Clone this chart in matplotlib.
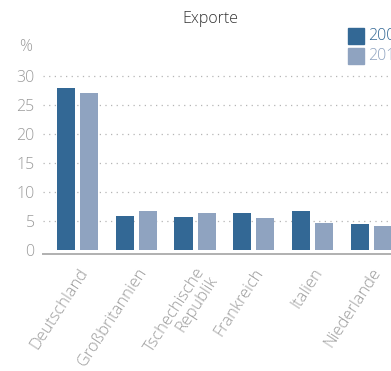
import numpy as np
import matplotlib
matplotlib.use("Agg")
import matplotlib.pyplot as plt

# Anteil an den Exporten je Partnerland (%)
laender = ["Deutschland", "Großbritannien", "Tschechische\nRepublik",
           "Frankreich", "Italien", "Niederlande"]
jahre = ["2008", "2013"]
werte_alt = [27.9, 5.9, 5.7, 6.4, 6.7, 4.5]
werte_neu = [27.1, 6.7, 6.4, 5.5, 4.7, 4.1]

farbe_alt = "#336895"
farbe_neu = "#8fa3c0"
grau = "#9b9b9b"

plt.rcParams["font.family"] = ["Open Sans", "DejaVu Sans"]
leicht = "light"

fig = plt.figure(figsize=(3.91, 3.71), dpi=100)
# Achse läuft rechts über den Bildrand hinaus
ax = fig.add_axes([43 / 391, 117 / 371, 387 / 391, 184 / 371])

x = np.arange(len(laender))
breite = 0.307
versatz = 0.196
ax.bar(x - versatz, werte_alt, breite, color=farbe_alt, zorder=3)
ax.bar(x + versatz, werte_neu, breite, color=farbe_neu, zorder=3)

ax.set_xlim(-0.588, 6.0)
ax.set_ylim(-0.69, 31)
ax.set_yticks([0, 5, 10, 15, 20, 25, 30])
ax.tick_params(axis="y", length=0, pad=6, labelsize=11.5, labelcolor=grau)
ax.tick_params(axis="x", length=0, pad=8)
for t in ax.get_yticklabels():
    t.set_fontweight(leicht)

# gepunktete Hilfslinien
for y in [5, 10, 15, 20, 25, 30]:
    ax.axhline(y, color="#b5b5b5", lw=0.9, ls=(0, (1, 3.5)), zorder=1)

for s in ["top", "right", "left"]:
    ax.spines[s].set_visible(False)
ax.spines["bottom"].set_color("#b0b0b0")
ax.spines["bottom"].set_linewidth(1.4)

ax.set_xticks(x)
ax.set_xticklabels(laender, rotation=57, ha="right", rotation_mode="anchor",
                   fontsize=11.8, color=grau, linespacing=0.95,
                   fontweight=leicht)

fig.text(210 / 391, 1 - 19 / 371, "Exporte", ha="center", va="center",
         fontsize=11.5, color="#333333", fontweight=leicht)
fig.text(26 / 391, 1 - 47 / 371, "%", ha="center", va="center",
         fontsize=11.5, color=grau, fontweight=leicht)

# Legende von Hand
for i, (jahr, farbe) in enumerate(zip(jahre, [farbe_alt, farbe_neu])):
    y0 = 1 - (44 + i * 19.5) / 371
    fig.patches.append(plt.Rectangle((348 / 391, y0), 16 / 391, 16 / 371,
                                     transform=fig.transFigure, color=farbe))
    fig.text(368 / 391, y0 + 8 / 371, jahr, ha="left", va="center",
             fontsize=11.5, color=farbe, fontweight=leicht)

fig.savefig("out.png", dpi=100)
